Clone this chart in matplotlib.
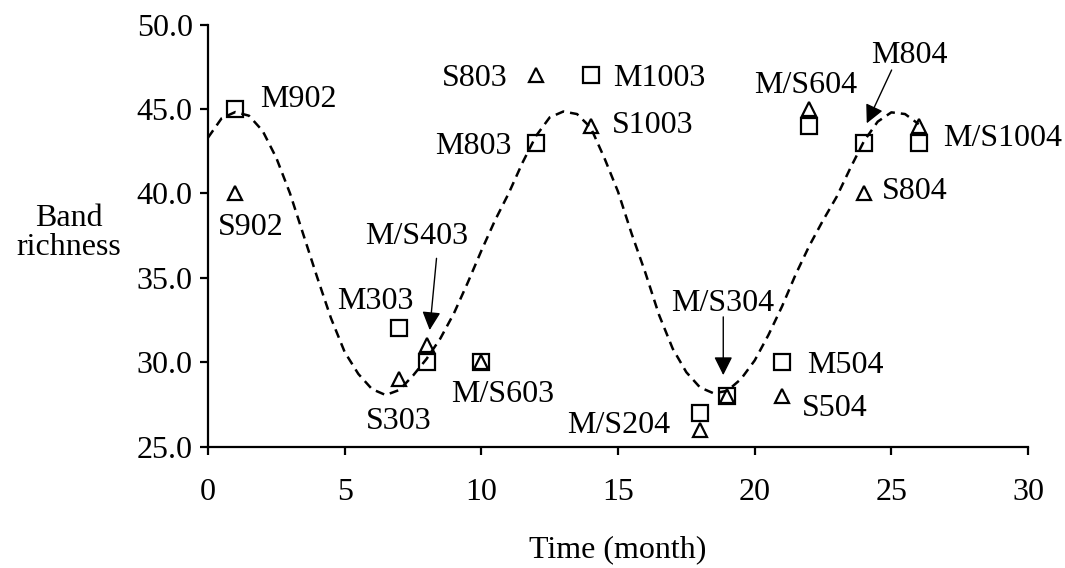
import matplotlib
matplotlib.use('Agg')
import matplotlib.pyplot as plt

plt.rcParams['font.family'] = ['Liberation Serif', 'DejaVu Serif']

# sampling months (same for both series)
months = [1, 7, 8, 10, 12, 14, 18, 19, 21, 22, 24, 26]
# band richness, M series (squares) and S series (triangles)
m_rich = [45, 32, 30, 30, 43, 47, 27, 28, 30, 44, 43, 43]
s_rich = [40, 29, 31, 30, 47, 44, 26, 28, 28, 45, 40, 44]

# seasonal trend line
trend_x = [0, 0.5, 1, 1.5, 2, 2.5, 3, 3.5, 4, 4.5, 5, 5.5, 6, 6.5, 7, 7.5, 8, 8.5,
           9, 9.5, 10, 10.5, 11, 11.5, 12, 12.5, 13, 13.5, 14, 14.5, 15, 15.5,
           16, 16.5, 17, 17.5, 18, 18.5, 19, 19.5, 20, 20.5, 21, 21.5, 22, 22.5,
           23, 23.5, 24, 24.5, 25, 25.5, 26]
trend_y = [43.3, 44.45, 44.82, 44.6, 43.7, 42.1, 40.0, 37.5, 35.0, 32.6, 30.6, 29.3,
           28.4, 28.05, 28.35, 29.2, 30.2, 31.4, 32.9, 34.7, 36.6, 38.4, 40.0, 41.8,
           43.4, 44.5, 44.85, 44.7, 43.9, 42.1, 40.1, 37.6, 35.3, 32.8, 30.8, 29.4,
           28.5, 28.15, 28.3, 29.0, 30.1, 31.6, 33.3, 35.2, 36.9, 38.4, 39.8, 41.5,
           43.1, 44.25, 44.8, 44.7, 44.1]

# point labels: text, x, y, horizontal alignment
labels = [
    ('M902', 1.9, 45.77, 'left'),
    ('S902', 1.58, 38.18, 'center'),
    ('M303', 6.12, 33.82, 'center'),
    ('S303', 6.98, 26.68, 'center'),
    ('M/S603', 10.79, 28.28, 'center'),
    ('S803', 10.97, 47.0, 'right'),
    ('M803', 11.1, 43.0, 'right'),
    ('M1003', 14.81, 47.0, 'left'),
    ('S1003', 14.77, 44.24, 'left'),
    ('M/S604', 21.87, 46.62, 'center'),
    ('M/S1004', 26.9, 43.46, 'left'),
    ('S804', 24.65, 40.3, 'left'),
    ('M504', 21.9, 30.02, 'left'),
    ('S504', 21.72, 27.45, 'left'),
    ('M/S204', 16.9, 26.46, 'right'),
]
# labels with arrows: text, text position, arrow start, arrow tip
arrow_labels = [
    ('M/S403', (7.64, 37.65), (8.36, 36.15), (8.11, 31.9)),
    ('M/S304', (18.82, 33.67), (18.85, 32.68), (18.85, 29.23)),
    ('M804', (25.65, 48.39), (25.01, 47.31), (24.1, 44.15)),
]

fs = 23

fig = plt.figure(figsize=(10.65, 5.68), dpi=100)
ax = fig.add_axes([0.1953, 0.2139, 0.77, 0.7428])

ax.plot(trend_x, trend_y, color='black', lw=1.8, linestyle=(0, (3.6, 2.4)))
ax.plot(months, m_rich, linestyle='none', marker='s', ms=11.5, mfc='none',
        mec='black', mew=1.6)
ax.plot(months, s_rich, linestyle='none', marker='^', ms=10.5, mfc='none',
        mec='black', mew=1.6)

for txt, x, y, ha in labels:
    ax.text(x, y, txt, ha=ha, va='center_baseline', fontsize=fs)

for txt, pos, start, tip in arrow_labels:
    ax.text(pos[0], pos[1], txt, ha='center', va='center_baseline', fontsize=fs)
    ax.annotate('', xy=tip, xytext=start,
                arrowprops=dict(arrowstyle='-|>', color='black', lw=1,
                                mutation_scale=28, shrinkA=0, shrinkB=0))

ax.set_xlim(0, 30)
ax.set_ylim(25, 50)
ax.set_xticks(range(0, 31, 5))
ax.set_yticks([25, 30, 35, 40, 45, 50])
ax.set_yticklabels([f'{v:.1f}' for v in [25, 30, 35, 40, 45, 50]])
ax.spines['top'].set_visible(False)
ax.spines['right'].set_visible(False)
ax.spines['left'].set_linewidth(1.6)
ax.spines['bottom'].set_linewidth(1.6)
ax.tick_params(axis='both', direction='out', length=6, width=1.6, labelsize=fs)
ax.tick_params(axis='x', pad=17)
ax.tick_params(axis='y', pad=5)

fig.text(0.065, 0.59, 'Band\nrichness', ha='center', va='center',
         multialignment='center', fontsize=fs, linespacing=1.0)
fig.text(0.58, 0.033, 'Time (month)', ha='center', va='center', fontsize=fs)

fig.savefig('out.png', dpi=100)
